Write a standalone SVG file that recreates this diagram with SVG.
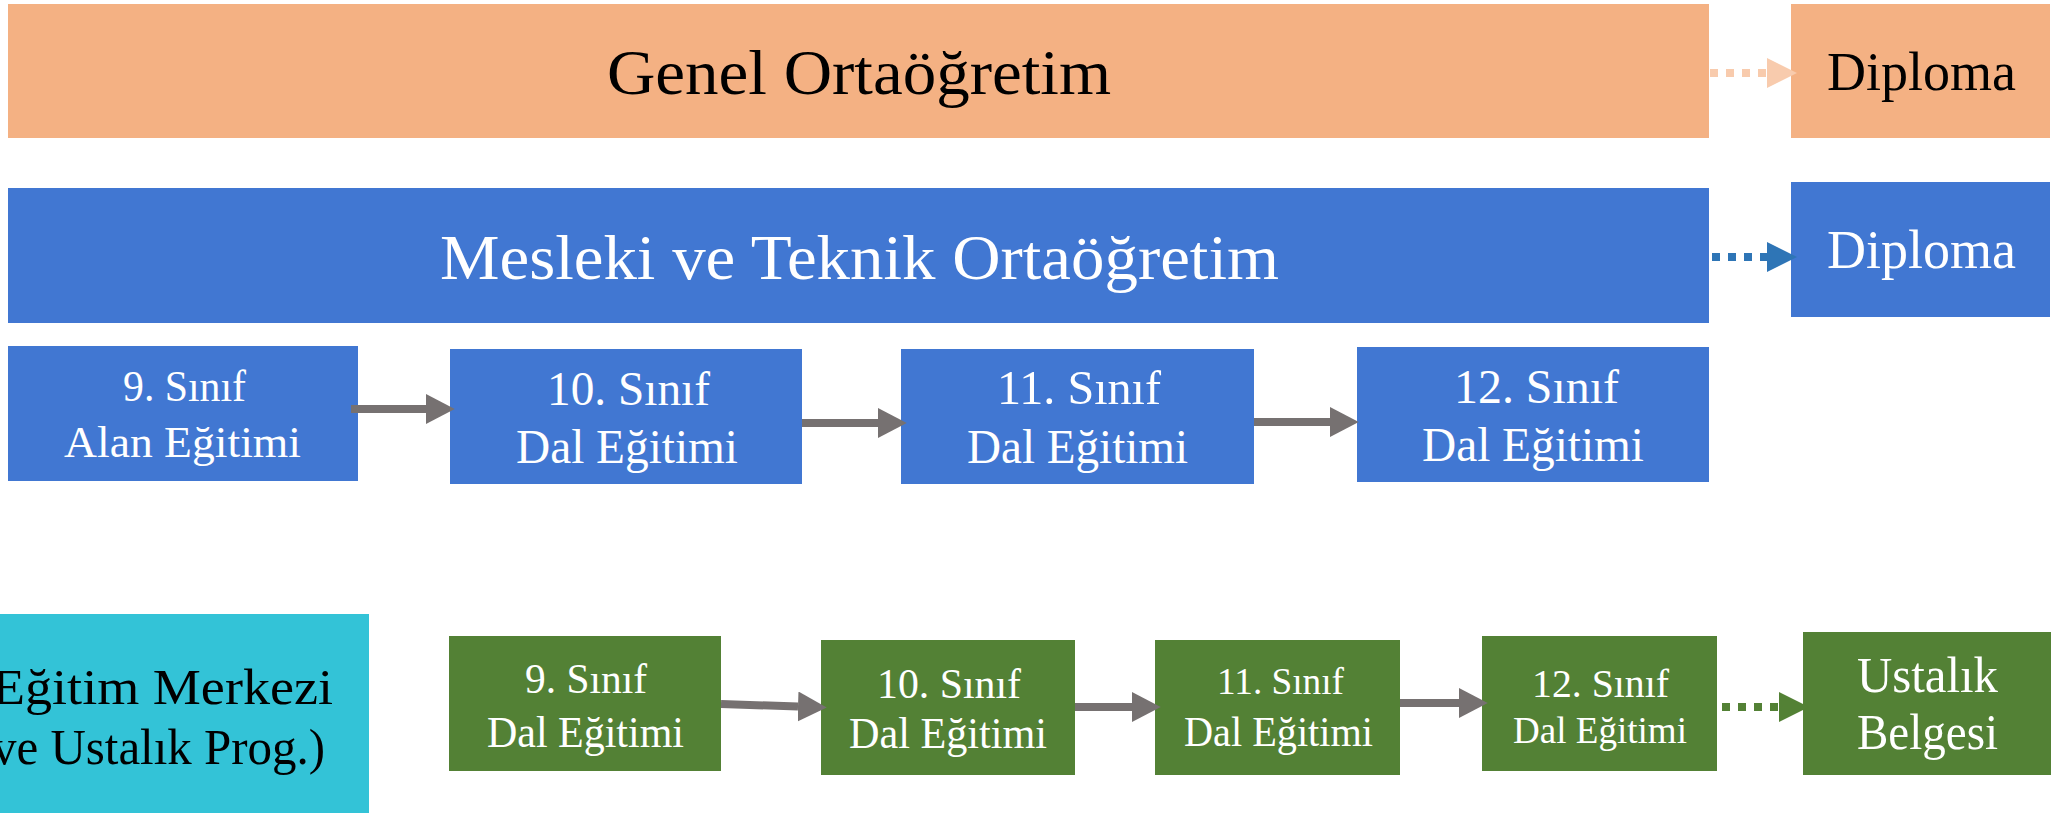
<svg xmlns="http://www.w3.org/2000/svg" width="2062" height="813" viewBox="0 0 2062 813">
<style>
text{font-family:"Liberation Serif","DejaVu Serif",serif;text-anchor:start}
.w{fill:#ffffff}
.k{fill:#000000}
.or{fill:#F4B183}
.bl{fill:#4177D2}
.gr{fill:#538135}
.cy{fill:#33C3D7}
.ga{stroke:#767171;stroke-width:8;fill:none}
.dot{stroke-width:8;fill:none;stroke-dasharray:8 8}
</style>
<defs>
<marker id="hg" markerUnits="userSpaceOnUse" markerWidth="30" markerHeight="30" refX="0" refY="12" viewBox="0 0 24 24" orient="auto"><path d="M0,0 L23,12 L0,24 z" fill="#767171"/></marker>
<marker id="ho" markerUnits="userSpaceOnUse" markerWidth="30" markerHeight="30" refX="0" refY="12" viewBox="0 0 24 24" orient="auto"><path d="M0,0 L24,12 L0,24 z" fill="#F8CBAD"/></marker>
<marker id="hb" markerUnits="userSpaceOnUse" markerWidth="30" markerHeight="30" refX="0" refY="12" viewBox="0 0 24 24" orient="auto"><path d="M0,0 L24,12 L0,24 z" fill="#2E75B6"/></marker>
<marker id="hgr" markerUnits="userSpaceOnUse" markerWidth="30" markerHeight="30" refX="0" refY="12" viewBox="0 0 24 24" orient="auto"><path d="M0,0 L24,12 L0,24 z" fill="#538135"/></marker>
</defs>
<rect width="2062" height="813" fill="#ffffff"/>

<g id="genel">
<rect class="or" x="8" y="4" width="1701" height="134"/>
<text class="k" x="607" y="94" font-size="63" textLength="504" lengthAdjust="spacingAndGlyphs">Genel Ortaöğretim</text>
</g>
<g id="diploma1">
<rect class="or" x="1791" y="4" width="259" height="134"/>
<text class="k" x="1827" y="90" font-size="54" textLength="189" lengthAdjust="spacingAndGlyphs">Diploma</text>
</g>
<g id="mesleki">
<rect class="bl" x="8" y="188" width="1701" height="135"/>
<text class="w" x="440" y="279" font-size="63" textLength="839" lengthAdjust="spacingAndGlyphs">Mesleki ve Teknik Ortaöğretim</text>
</g>
<g id="diploma2">
<rect class="bl" x="1791" y="182" width="259" height="135"/>
<text class="w" x="1827" y="268" font-size="54" textLength="189" lengthAdjust="spacingAndGlyphs">Diploma</text>
</g>

<g id="b9">
<rect class="bl" x="8" y="346" width="350" height="135"/>
<text class="w" x="123" y="401" font-size="44" textLength="123" lengthAdjust="spacingAndGlyphs">9. Sınıf</text>
<text class="w" x="64" y="457" font-size="45" textLength="237" lengthAdjust="spacingAndGlyphs">Alan Eğitimi</text>
</g>
<g id="b10">
<rect class="bl" x="450" y="349" width="352" height="135"/>
<text class="w" x="547" y="405" font-size="48" textLength="163" lengthAdjust="spacingAndGlyphs">10. Sınıf</text>
<text class="w" x="516" y="463" font-size="48" textLength="222" lengthAdjust="spacingAndGlyphs">Dal Eğitimi</text>
</g>
<g id="b11">
<rect class="bl" x="901" y="349" width="353" height="135"/>
<text class="w" x="997" y="404" font-size="48" textLength="164" lengthAdjust="spacingAndGlyphs">11. Sınıf</text>
<text class="w" x="967" y="463" font-size="48" textLength="221" lengthAdjust="spacingAndGlyphs">Dal Eğitimi</text>
</g>
<g id="b12">
<rect class="bl" x="1357" y="347" width="352" height="135"/>
<text class="w" x="1454" y="403" font-size="48" textLength="165" lengthAdjust="spacingAndGlyphs">12. Sınıf</text>
<text class="w" x="1422" y="461" font-size="48" textLength="222" lengthAdjust="spacingAndGlyphs">Dal Eğitimi</text>
</g>

<g id="merkez">
<rect class="cy" x="0" y="614" width="369" height="199"/>
<text class="k" x="-8" y="704" font-size="51" textLength="341" lengthAdjust="spacingAndGlyphs">Eğitim Merkezi</text>
<text class="k" x="-8" y="764" font-size="51" textLength="333" lengthAdjust="spacingAndGlyphs">ve Ustalık Prog.)</text>
</g>

<g id="g9">
<rect class="gr" x="449" y="636" width="272" height="135"/>
<text class="w" x="525" y="693" font-size="42" textLength="122" lengthAdjust="spacingAndGlyphs">9. Sınıf</text>
<text class="w" x="487" y="747" font-size="44" textLength="197" lengthAdjust="spacingAndGlyphs">Dal Eğitimi</text>
</g>
<g id="g10">
<rect class="gr" x="821" y="640" width="254" height="135"/>
<text class="w" x="877" y="698" font-size="42" textLength="144" lengthAdjust="spacingAndGlyphs">10. Sınıf</text>
<text class="w" x="849" y="748" font-size="44" textLength="198" lengthAdjust="spacingAndGlyphs">Dal Eğitimi</text>
</g>
<g id="g11">
<rect class="gr" x="1155" y="640" width="245" height="135"/>
<text class="w" x="1217" y="694" font-size="37" textLength="127" lengthAdjust="spacingAndGlyphs">11. Sınıf</text>
<text class="w" x="1184" y="746" font-size="42" textLength="189" lengthAdjust="spacingAndGlyphs">Dal Eğitimi</text>
</g>
<g id="g12">
<rect class="gr" x="1482" y="636" width="235" height="135"/>
<text class="w" x="1532" y="697" font-size="41" textLength="137" lengthAdjust="spacingAndGlyphs">12. Sınıf</text>
<text class="w" x="1513" y="743" font-size="38" textLength="174" lengthAdjust="spacingAndGlyphs">Dal Eğitimi</text>
</g>
<g id="ustalik">
<rect class="gr" x="1803" y="632" width="248" height="143"/>
<text class="w" x="1857" y="692" font-size="50" textLength="141" lengthAdjust="spacingAndGlyphs">Ustalık</text>
<text class="w" x="1857" y="749" font-size="50" textLength="141" lengthAdjust="spacingAndGlyphs">Belgesi</text>
</g>

<g id="connectors">
<line class="dot" x1="1710" y1="73" x2="1767" y2="73" stroke="#F8CBAD" marker-end="url(#ho)"/>
<line class="dot" x1="1712" y1="257" x2="1767" y2="257" stroke="#2E75B6" marker-end="url(#hb)"/>
<line class="dot" x1="1722" y1="707" x2="1779" y2="707" stroke="#538135" marker-end="url(#hgr)"/>
<line class="ga" x1="351" y1="409" x2="426" y2="409" marker-end="url(#hg)"/>
<line class="ga" x1="802" y1="423" x2="878" y2="423" marker-end="url(#hg)"/>
<line class="ga" x1="1254" y1="422" x2="1330" y2="422" marker-end="url(#hg)"/>
<line class="ga" x1="721" y1="704" x2="798" y2="706.5" marker-end="url(#hg)"/>
<line class="ga" x1="1075" y1="707" x2="1132" y2="707" marker-end="url(#hg)"/>
<line class="ga" x1="1400" y1="703" x2="1459" y2="703" marker-end="url(#hg)"/>
</g>
</svg>
